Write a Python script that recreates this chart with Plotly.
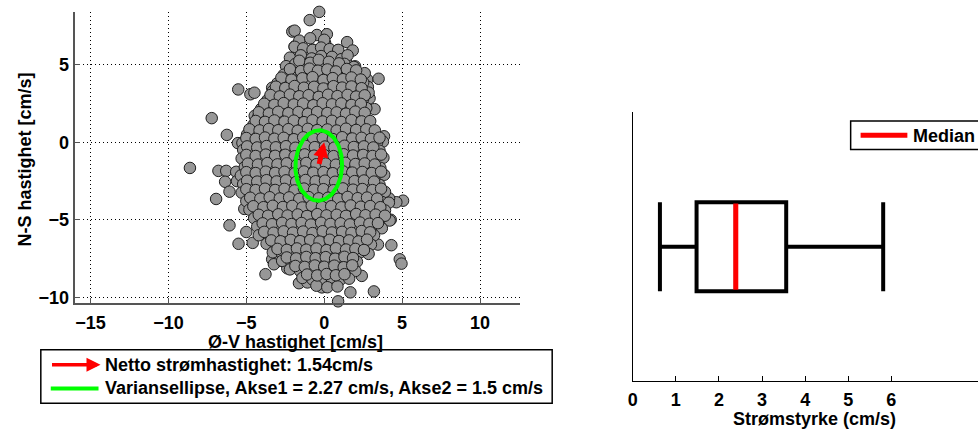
import math
import plotly.graph_objects as go

# ---- current meter samples: east-west (u) and north-south (v) velocity, cm/s ----
samples = [
    # outlying samples
    (-0.32, 8.40), (-0.93, 7.87), (-2.05, 7.13), (-1.90, 7.19), (-0.47, 6.91), (0.17, 6.96),
    (0.06, 6.38), (1.47, 6.45), (1.83, 5.91), (0.86, 5.91), (-1.90, 6.17), (-1.40, 6.06),
    (-0.75, 5.96), (-1.29, 5.79), (-1.94, 5.49), (-0.11, 5.32), (1.40, 5.21), (1.98, 4.89),
    (2.16, 4.26), (2.76, 4.04), (3.49, 4.09), (2.80, 3.57), (2.91, 2.83), (3.23, 2.13),
    (-5.52, 3.40), (-4.74, 3.09), (-4.48, 3.19), (-3.34, 3.51), (-4.46, 1.70), (-7.22, 1.55),
    (-6.25, 0.47), (-5.54, -0.06), (-8.62, -1.66), (-6.79, -1.85), (-6.29, -1.85), (-5.65, -1.91),
    (-6.36, -2.55), (-6.08, -3.19), (-5.60, -2.51), (-6.94, -3.66), (-5.13, -4.30), (-6.08, -5.36),
    (-5.00, -5.79), (-5.50, -6.55), (-4.59, -6.49), (-3.77, -8.51), (-3.34, -7.55), (-2.91, -7.66),
    (-3.23, -7.87), (-2.37, -8.13), (-1.62, -9.09), (-1.08, -9.04), (-0.15, -9.36), (0.89, -10.26),
    (2.17, -10.43), (1.68, -9.68), (3.19, -9.62), (2.41, -8.62), (3.45, -6.60), (4.31, -6.64),
    (4.85, -7.55), (4.96, -7.83), (4.27, -5.00), (5.06, -3.77), (4.63, -3.87), (4.16, -3.62),
    (3.84, 0.38), (3.77, 0.04), (2.16, -0.04),
    # main cloud, outer layer
    (-1.60, 6.55), (-0.90, 6.70), (0.00, 6.60),
    (-1.90, 6.15), (-1.35, 6.05), (-0.75, 5.95), (-0.20, 6.10), (0.35, 6.00), (0.90, 5.95),
    (-2.20, 5.45), (-1.50, 5.60), (-0.80, 5.40), (-0.20, 5.55), (0.50, 5.50), (1.10, 5.35), (1.50, 5.60),
    (-2.45, 4.90), (-1.85, 5.05), (-1.20, 4.95), (-0.60, 4.85), (0.05, 5.00), (0.70, 4.90), (1.30, 5.05),
    (1.90, 4.85),
    (-2.60, 4.35), (-2.00, 4.50), (-1.45, 4.40), (-0.85, 4.30), (-0.25, 4.45), (0.35, 4.40), (0.95, 4.35),
    (1.55, 4.50), (2.20, 4.30), (2.60, 4.45),
    (-3.00, 3.80), (-2.35, 3.90), (-1.75, 3.85), (-1.10, 3.95), (-0.50, 3.80), (0.10, 3.90), (0.70, 3.85),
    (1.30, 3.75), (1.90, 3.95), (2.50, 3.85),
    (-3.30, 3.30), (-2.70, 3.25), (-2.05, 3.35), (-1.45, 3.30), (-0.80, 3.20), (-0.20, 3.40), (0.40, 3.30),
    (1.00, 3.25), (1.65, 3.35), (2.25, 3.30), (2.85, 3.20),
    (-3.65, 2.70), (-3.00, 2.80), (-2.40, 2.75), (-1.80, 2.85), (-1.15, 2.70), (-0.55, 2.80), (0.10, 2.75),
    (0.70, 2.70), (1.30, 2.85), (1.90, 2.75), (2.50, 2.80),
    (-4.05, 2.15), (-3.40, 2.25), (-2.80, 2.20), (-2.15, 2.15), (-1.50, 2.30), (-0.90, 2.20), (-0.30, 2.15),
    (0.35, 2.25), (0.95, 2.20), (1.55, 2.10), (2.15, 2.25), (2.70, 2.20),
    (-4.25, 1.60), (-3.70, 1.70), (-3.05, 1.65), (-2.45, 1.60), (-1.85, 1.70), (-1.20, 1.65), (-0.60, 1.75),
    (0.00, 1.60), (0.65, 1.65), (1.25, 1.70), (1.85, 1.60), (2.45, 1.65),
    (-4.55, 1.10), (-3.95, 1.05), (-3.35, 1.15), (-2.75, 1.10), (-2.10, 1.00), (-1.50, 1.15), (-0.90, 1.10),
    (-0.30, 1.05), (0.35, 1.10), (0.95, 1.15), (1.55, 1.05), (2.20, 1.10), (2.85, 1.00),
    (-4.95, 0.50), (-4.35, 0.60), (-3.75, 0.55), (-3.10, 0.45), (-2.50, 0.60), (-1.90, 0.55), (-1.25, 0.50),
    (-0.65, 0.62), (0.00, 0.55), (0.60, 0.48), (1.20, 0.60), (1.85, 0.55), (2.50, 0.50), (3.10, 0.60),
    (-5.25, -0.05), (-4.65, 0.05), (-4.05, 0.00), (-3.45, -0.08), (-2.80, 0.05), (-2.20, 0.00),
    (-1.55, -0.05), (-0.95, 0.05), (-0.30, 0.00), (0.30, -0.05), (0.95, 0.08), (1.55, 0.00), (2.20, -0.05),
    (2.80, 0.05), (3.40, 0.00),
    (-5.20, -0.50), (-4.60, -0.60), (-3.95, -0.55), (-3.35, -0.48), (-2.75, -0.60), (-2.10, -0.55),
    (-1.50, -0.50), (-0.85, -0.62), (-0.25, -0.55), (0.40, -0.50), (1.00, -0.60), (1.65, -0.55),
    (2.25, -0.48), (2.90, -0.60), (3.55, -0.55),
    (-5.30, -1.05), (-4.70, -1.15), (-4.05, -1.10), (-3.45, -1.02), (-2.85, -1.15), (-2.20, -1.10),
    (-1.60, -1.05), (-0.95, -1.18), (-0.35, -1.10), (0.30, -1.05), (0.90, -1.15), (1.55, -1.10),
    (2.15, -1.05), (2.80, -1.15), (3.40, -1.10), (3.80, -1.00),
    (-5.10, -1.60), (-4.45, -1.70), (-3.85, -1.65), (-3.20, -1.58), (-2.60, -1.72), (-2.00, -1.65),
    (-1.35, -1.60), (-0.75, -1.70), (-0.10, -1.65), (0.50, -1.60), (1.15, -1.72), (1.75, -1.65),
    (2.40, -1.60), (3.00, -1.70), (3.60, -1.65),
    (-5.35, -2.15), (-4.75, -2.25), (-4.10, -2.20), (-3.50, -2.12), (-2.90, -2.25), (-2.25, -2.20),
    (-1.65, -2.15), (-1.00, -2.28), (-0.40, -2.20), (0.25, -2.15), (0.85, -2.25), (1.50, -2.20),
    (2.10, -2.15), (2.75, -2.25), (3.35, -2.20), (3.85, -2.10),
    (-5.20, -2.70), (-4.55, -2.80), (-3.95, -2.75), (-3.30, -2.68), (-2.70, -2.80), (-2.05, -2.75),
    (-1.45, -2.70), (-0.80, -2.82), (-0.20, -2.75), (0.45, -2.70), (1.05, -2.80), (1.70, -2.75),
    (2.30, -2.70), (2.95, -2.80), (3.55, -2.75),
    (-5.30, -3.25), (-4.70, -3.35), (-4.10, -3.30), (-3.45, -3.22), (-2.85, -3.35), (-2.20, -3.30),
    (-1.60, -3.25), (-0.95, -3.38), (-0.35, -3.30), (0.30, -3.25), (0.90, -3.35), (1.55, -3.30),
    (2.15, -3.25), (2.80, -3.35), (3.40, -3.30), (3.90, -3.20),
    (-5.00, -3.80), (-4.40, -3.90), (-3.80, -3.85), (-3.15, -3.78), (-2.55, -3.90), (-1.90, -3.85),
    (-1.30, -3.80), (-0.65, -3.92), (-0.05, -3.85), (0.60, -3.80), (1.20, -3.90), (1.85, -3.85),
    (2.45, -3.80), (3.10, -3.90), (3.70, -3.85), (4.15, -3.90),
    (-4.80, -4.35), (-4.20, -4.45), (-3.55, -4.40), (-2.95, -4.32), (-2.30, -4.45), (-1.70, -4.40),
    (-1.05, -4.35), (-0.45, -4.48), (0.20, -4.40), (0.80, -4.35), (1.45, -4.45), (2.05, -4.40),
    (2.70, -4.35), (3.30, -4.45), (3.90, -4.40),
    (-4.50, -4.90), (-3.90, -5.00), (-3.25, -4.95), (-2.65, -4.88), (-2.00, -5.00), (-1.40, -4.95),
    (-0.75, -4.90), (-0.15, -5.02), (0.50, -4.95), (1.10, -4.90), (1.75, -5.00), (2.35, -4.95),
    (3.00, -4.90), (3.60, -5.00), (4.20, -5.05),
    (-4.30, -5.45), (-3.65, -5.55), (-3.05, -5.50), (-2.40, -5.42), (-1.80, -5.55), (-1.15, -5.50),
    (-0.55, -5.45), (0.10, -5.58), (0.70, -5.50), (1.35, -5.45), (1.95, -5.55), (2.60, -5.50),
    (3.20, -5.45), (3.70, -5.55),
    (-4.20, -6.00), (-3.55, -6.10), (-2.95, -6.05), (-2.30, -5.98), (-1.70, -6.10), (-1.05, -6.05),
    (-0.45, -6.00), (0.20, -6.12), (0.80, -6.05), (1.45, -6.00), (2.05, -6.10), (2.70, -6.05), (3.20, -6.00),
    (-3.70, -6.55), (-3.10, -6.65), (-2.50, -6.60), (-1.85, -6.52), (-1.25, -6.65), (-0.60, -6.60),
    (0.00, -6.55), (0.65, -6.68), (1.25, -6.60), (1.90, -6.55), (2.50, -6.65), (3.00, -6.60),
    (-3.30, -7.10), (-2.70, -7.20), (-2.05, -7.15), (-1.45, -7.08), (-0.80, -7.20), (-0.20, -7.15),
    (0.45, -7.10), (1.05, -7.22), (1.70, -7.15), (2.30, -7.10), (2.85, -7.20),
    (-2.70, -7.65), (-2.10, -7.75), (-1.50, -7.70), (-0.85, -7.62), (-0.25, -7.75), (0.40, -7.70),
    (1.00, -7.65), (1.60, -7.78), (2.10, -7.70),
    (-2.20, -8.20), (-1.55, -8.30), (-0.95, -8.25), (-0.30, -8.18), (0.30, -8.30), (0.95, -8.25),
    (1.55, -8.20), (2.00, -8.30),
    (-1.40, -8.75), (-0.75, -8.85), (-0.15, -8.80), (0.45, -8.72), (1.05, -8.85), (1.60, -8.80),
    (-0.50, -9.25), (0.20, -9.35), (0.85, -9.30),
    # main cloud, inner layer
    (-1.60, 5.25), (-0.90, 5.12), (-0.35, 5.31), (0.30, 5.18), (0.95, 5.08),
    (-2.20, 4.71), (-1.50, 4.58), (-0.95, 4.74), (-0.40, 4.61), (0.20, 4.69), (0.75, 4.56), (1.45, 4.72),
    (2.05, 4.63),
    (-2.75, 4.16), (-2.10, 4.03), (-1.40, 4.12), (-0.75, 4.19), (-0.05, 4.01), (0.55, 4.13), (1.20, 4.06),
    (1.75, 4.17), (2.35, 4.04),
    (-3.10, 3.58), (-2.50, 3.49), (-1.90, 3.62), (-1.30, 3.51), (-0.65, 3.57), (-0.05, 3.46), (0.60, 3.61),
    (1.15, 3.52), (1.75, 3.59), (2.40, 3.48),
    (-3.45, 3.04), (-2.85, 2.95), (-2.20, 3.07), (-1.60, 2.96), (-1.00, 3.03), (-0.35, 2.92), (0.25, 3.06),
    (0.85, 2.97), (1.50, 3.05), (2.05, 2.94), (2.60, 3.02),
    (-3.85, 2.48), (-3.20, 2.41), (-2.60, 2.52), (-1.95, 2.43), (-1.35, 2.49), (-0.70, 2.38), (-0.10, 2.51),
    (0.50, 2.44), (1.10, 2.50), (1.75, 2.40), (2.35, 2.47),
    (-4.20, 1.93), (-3.55, 1.85), (-2.95, 1.96), (-2.30, 1.87), (-1.65, 1.94), (-1.05, 1.83), (-0.45, 1.95),
    (0.20, 1.88), (0.80, 1.92), (1.40, 1.84), (2.00, 1.97), (2.60, 1.89),
    (-4.40, 1.37), (-3.80, 1.31), (-3.20, 1.40), (-2.55, 1.32), (-1.95, 1.39), (-1.30, 1.29), (-0.75, 1.41),
    (-0.10, 1.33), (0.50, 1.38), (1.10, 1.30), (1.75, 1.42), (2.40, 1.34), (2.95, 1.36),
    (-4.80, 0.83), (-4.15, 0.76), (-3.55, 0.85), (-2.95, 0.77), (-2.30, 0.84), (-1.70, 0.74), (-1.05, 0.86),
    (-0.45, 0.78), (0.20, 0.82), (0.80, 0.75), (1.40, 0.87), (2.05, 0.79), (2.70, 0.83), (3.25, 0.76),
    (-5.00, 0.27), (-4.40, 0.21), (-3.80, 0.30), (-3.20, 0.22), (-2.60, 0.28), (-1.95, 0.19), (-1.35, 0.31),
    (-0.70, 0.23), (-0.10, 0.27), (0.55, 0.20), (1.15, 0.32), (1.80, 0.24), (2.40, 0.28), (3.00, 0.21),
    (3.55, 0.29),
    (-4.95, -0.27), (-4.30, -0.34), (-3.70, -0.25), (-3.10, -0.33), (-2.45, -0.26), (-1.85, -0.36),
    (-1.20, -0.24), (-0.60, -0.32), (0.05, -0.28), (0.65, -0.35), (1.30, -0.23), (1.90, -0.31),
    (2.55, -0.27), (3.15, -0.34),
    (-5.00, -0.82), (-4.40, -0.89), (-3.75, -0.80), (-3.15, -0.88), (-2.50, -0.81), (-1.90, -0.91),
    (-1.25, -0.79), (-0.65, -0.87), (0.00, -0.83), (0.60, -0.90), (1.25, -0.78), (1.85, -0.86),
    (2.50, -0.82), (3.10, -0.89), (3.65, -0.80),
    (-4.90, -1.38), (-4.25, -1.44), (-3.65, -1.35), (-3.00, -1.43), (-2.40, -1.36), (-1.75, -1.46),
    (-1.15, -1.34), (-0.50, -1.42), (0.10, -1.38), (0.75, -1.45), (1.35, -1.33), (2.00, -1.41),
    (2.60, -1.37), (3.25, -1.44),
    (-5.00, -1.93), (-4.40, -1.99), (-3.75, -1.90), (-3.15, -1.98), (-2.55, -1.91), (-1.90, -2.01),
    (-1.30, -1.89), (-0.70, -1.97), (-0.05, -1.93), (0.55, -2.00), (1.20, -1.88), (1.80, -1.96),
    (2.45, -1.92), (3.05, -1.99), (3.65, -1.90),
    (-4.95, -2.48), (-4.30, -2.54), (-3.70, -2.45), (-3.05, -2.53), (-2.45, -2.46), (-1.80, -2.56),
    (-1.20, -2.44), (-0.55, -2.52), (0.05, -2.48), (0.70, -2.55), (1.30, -2.43), (1.95, -2.51),
    (2.55, -2.47), (3.20, -2.54),
    (-5.00, -3.03), (-4.40, -3.09), (-3.80, -3.00), (-3.15, -3.08), (-2.55, -3.01), (-1.90, -3.11),
    (-1.30, -2.99), (-0.65, -3.07), (-0.05, -3.03), (0.60, -3.10), (1.20, -2.98), (1.85, -3.06),
    (2.45, -3.02), (3.10, -3.09), (3.65, -3.00),
    (-4.75, -3.58), (-4.10, -3.64), (-3.50, -3.55), (-2.85, -3.63), (-2.25, -3.56), (-1.60, -3.66),
    (-1.00, -3.54), (-0.35, -3.62), (0.25, -3.58), (0.90, -3.65), (1.50, -3.53), (2.15, -3.61),
    (2.75, -3.57), (3.40, -3.64),
    (-4.55, -4.13), (-3.90, -4.19), (-3.30, -4.10), (-2.65, -4.18), (-2.05, -4.11), (-1.40, -4.21),
    (-0.80, -4.09), (-0.15, -4.17), (0.45, -4.13), (1.10, -4.20), (1.70, -4.08), (2.35, -4.16),
    (2.95, -4.12), (3.60, -4.19),
    (-4.20, -4.68), (-3.60, -4.74), (-2.95, -4.65), (-2.35, -4.73), (-1.70, -4.66), (-1.10, -4.76),
    (-0.45, -4.64), (0.15, -4.72), (0.80, -4.68), (1.40, -4.75), (2.05, -4.63), (2.65, -4.71),
    (3.30, -4.67), (3.90, -4.74),
    (-3.95, -5.23), (-3.35, -5.29), (-2.70, -5.20), (-2.10, -5.28), (-1.45, -5.21), (-0.85, -5.31),
    (-0.20, -5.19), (0.40, -5.27), (1.05, -5.23), (1.65, -5.30), (2.30, -5.18), (2.90, -5.26),
    (3.45, -5.22),
    (-3.85, -5.78), (-3.25, -5.84), (-2.60, -5.75), (-2.00, -5.83), (-1.35, -5.76), (-0.75, -5.86),
    (-0.10, -5.74), (0.50, -5.82), (1.15, -5.78), (1.75, -5.85), (2.40, -5.73), (2.95, -5.81),
    (-3.40, -6.33), (-2.80, -6.39), (-2.15, -6.30), (-1.55, -6.38), (-0.90, -6.31), (-0.30, -6.41),
    (0.35, -6.29), (0.95, -6.37), (1.60, -6.33), (2.20, -6.40), (2.75, -6.28),
    (-3.00, -6.88), (-2.40, -6.94), (-1.75, -6.85), (-1.15, -6.93), (-0.50, -6.86), (0.15, -6.96),
    (0.75, -6.84), (1.40, -6.92), (2.00, -6.88), (2.55, -6.95),
    (-2.40, -7.43), (-1.80, -7.49), (-1.15, -7.40), (-0.55, -7.48), (0.10, -7.41), (0.70, -7.51),
    (1.30, -7.39), (1.85, -7.47),
    (-1.85, -7.98), (-1.25, -8.04), (-0.60, -7.95), (0.00, -8.03), (0.65, -7.96), (1.25, -8.06),
    (1.80, -7.94),
    (-1.10, -8.53), (-0.45, -8.59), (0.15, -8.50), (0.75, -8.58), (1.30, -8.51),
]
east = [p[0] for p in samples]
north = [p[1] for p in samples]

# ---- summary statistics ----
mean_u, mean_v = -0.35, -1.50          # net current vector (cm/s)
axis1, axis2 = 2.27, 1.5               # variance ellipse semi-axes (cm/s)
ellipse_tilt_deg = -2.0                # major axis tilt from north

# ---- current speed box plot (cm/s) ----
speed_low, speed_q1, speed_median, speed_q3, speed_high = 0.63, 1.48, 2.39, 3.56, 5.81

W, H = 978, 438
FONT = "Liberation Sans"


def px(x):
    return x / W


def py(y):
    return 1 - y / H


fig = go.Figure()

fig.add_trace(go.Scatter(
    x=east, y=north, mode="markers", xaxis="x", yaxis="y", cliponaxis=False,
    marker=dict(size=11.5, color="#979797", line=dict(color="#1e1e1e", width=1)),
    showlegend=False, hoverinfo="skip",
))

# variance ellipse around the mean
tilt = math.radians(ellipse_tilt_deg)
ex, ey = [], []
for k in range(181):
    t = 2 * math.pi * k / 180
    a = axis2 * math.cos(t)
    b = axis1 * math.sin(t)
    ex.append(mean_u + a * math.cos(tilt) - b * math.sin(tilt))
    ey.append(mean_v + a * math.sin(tilt) + b * math.cos(tilt))
fig.add_trace(go.Scatter(
    x=ex, y=ey, mode="lines", xaxis="x", yaxis="y",
    line=dict(color="#00ff00", width=4), showlegend=False, hoverinfo="skip",
))

# speed box plot
fig.add_trace(go.Box(
    orientation="h", y=[0.5], xaxis="x2", yaxis="y2",
    lowerfence=[speed_low], q1=[speed_q1], median=[speed_median],
    q3=[speed_q3], upperfence=[speed_high],
    width=0.33, whiskerwidth=1, boxpoints=False,
    line=dict(color="black", width=4), fillcolor="rgba(0,0,0,0)",
    showlegend=False, hoverinfo="skip",
))
fig.add_trace(go.Scatter(
    x=[speed_median, speed_median], y=[0.5 - 0.16, 0.5 + 0.16], mode="lines",
    xaxis="x2", yaxis="y2", line=dict(color="red", width=5),
    showlegend=False, hoverinfo="skip",
))

bold = dict(family=FONT, size=18, color="black", weight="bold")
net_speed = math.hypot(mean_u, mean_v)


def label(x, y, text, xanchor="center", **kw):
    return dict(x=px(x), y=py(y), xref="paper", yref="paper", text=text, showarrow=False,
                xanchor=xanchor, yanchor="middle", font=bold, **kw)


annotations = [
    # net current arrow, from the mean vector to the origin
    dict(x=0, y=0, ax=mean_u, ay=mean_v, xref="x", yref="y", axref="x", ayref="y",
         showarrow=True, arrowhead=2, arrowsize=0.6, arrowwidth=5, arrowcolor="red", text=""),
    # axis titles
    label(292, 345, "Ø-V hastighet [cm/s]"),
    label(20, 161, "N-S hastighet [cm/s]", textangle=-90),
    label(814, 423, "Strømstyrke (cm/s)"),
    # legend (left)
    dict(x=px(96), y=py(368), xref="paper", yref="paper", ax=-50, ay=0,
         showarrow=True, arrowhead=2, arrowsize=0.8, arrowwidth=3.5, arrowcolor="red", text=""),
    label(99, 368, f"Netto strømhastighet: {net_speed:.2f}cm/s", xanchor="left"),
    label(99, 392, f"Variansellipse, Akse1 = {axis1:g} cm/s, Akse2 = {axis2:g} cm/s", xanchor="left"),
    # legend (right)
    label(911, 137, "Median", xanchor="left"),
]

shapes = [
    dict(type="rect", xref="paper", yref="paper", x0=px(36), x1=px(550), y0=py(407), y1=py(353),
         line=dict(color="black", width=1.5), fillcolor="white", layer="above"),
    dict(type="line", xref="paper", yref="paper", x0=px(46), x1=px(94), y0=py(392), y1=py(392),
         line=dict(color="#00ff00", width=4)),
    dict(type="rect", xref="paper", yref="paper", x0=px(850), x1=1.01, y0=py(151), y1=py(122),
         line=dict(color="black", width=1.5), fillcolor="white", layer="above"),
    dict(type="line", xref="paper", yref="paper", x0=px(860), x1=px(907), y0=py(136.5), y1=py(136.5),
         line=dict(color="red", width=5)),
]

tickfont = dict(family=FONT, size=18, color="black", weight="bold")
grid_dash = "1px,3px"

fig.update_layout(
    width=W, height=H, margin=dict(l=0, r=0, t=0, b=0),
    paper_bgcolor="white", plot_bgcolor="white",
    showlegend=False,
    xaxis=dict(
        domain=[px(70), px(518)], range=[-16.02, 12.59], anchor="y",
        tickvals=[-15, -10, -5, 0, 5, 10], ticks="inside", ticklen=5, tickcolor="#555",
        showline=True, linecolor="#555", linewidth=2, zeroline=False,
        showgrid=True, gridcolor="black", griddash=grid_dash, gridwidth=1,
        tickfont=tickfont, ticklabelstandoff=2,
    ),
    yaxis=dict(
        domain=[py(306), py(12)], range=[-10.38, 8.40], anchor="x",
        tickvals=[-10, -5, 0, 5], ticks="inside", ticklen=5, tickcolor="#555",
        showline=True, linecolor="#555", linewidth=2, zeroline=False,
        showgrid=True, gridcolor="black", griddash=grid_dash, gridwidth=1,
        tickfont=tickfont,
    ),
    xaxis2=dict(
        domain=[px(631), 1.0], range=[0, 8.01], anchor="y2",
        tickvals=[0, 1, 2, 3, 4, 5, 6], ticks="inside", ticklen=5, tickcolor="black",
        showline=True, linecolor="black", linewidth=1, zeroline=False, showgrid=False,
        tickfont=tickfont, ticklabelstandoff=2,
    ),
    yaxis2=dict(
        domain=[py(385), py(113)], range=[0, 1], anchor="x2",
        showticklabels=False, ticks="", showline=True, linecolor="black", linewidth=1,
        zeroline=False, showgrid=False,
    ),
    annotations=annotations,
    shapes=shapes,
)

fig.write_html("out.html")
